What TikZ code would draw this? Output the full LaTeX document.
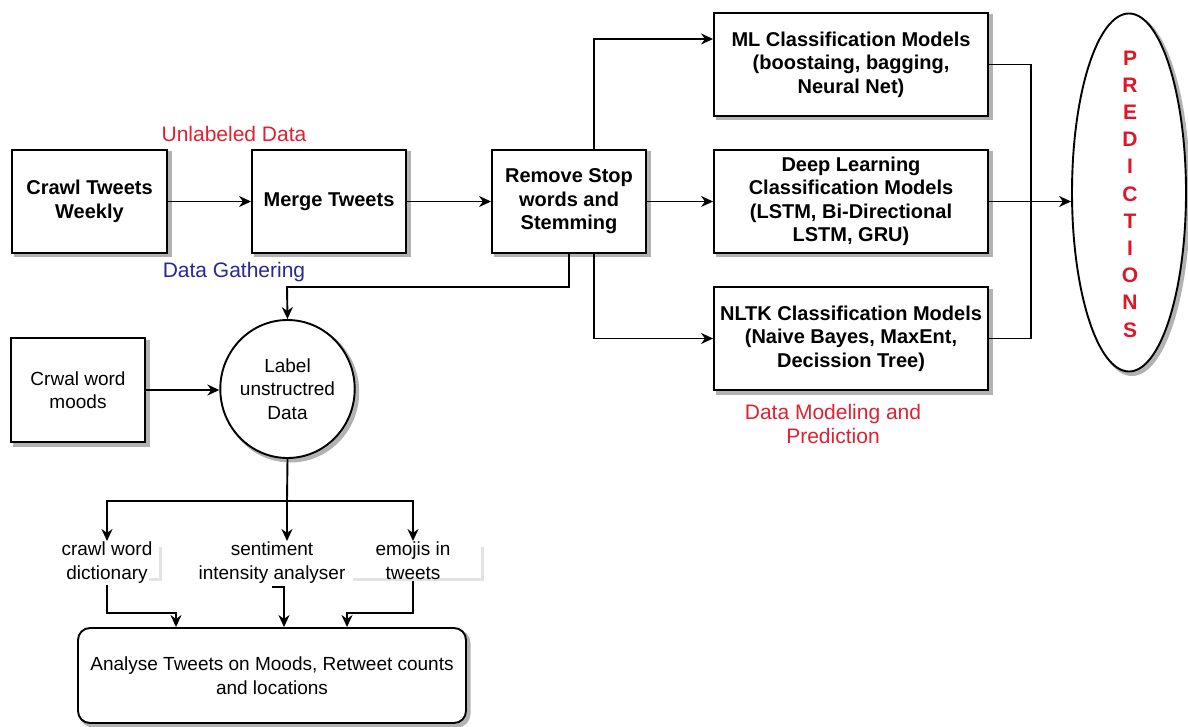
\documentclass[tikz,border=0pt]{standalone}
\usepackage{fontspec}
\setmainfont{Liberation Sans}
\usetikzlibrary{arrows.meta,shapes.geometric,calc}
\definecolor{lblred}{RGB}{226,32,48}
\definecolor{lblblue}{RGB}{40,40,150}
\definecolor{predred}{RGB}{222,22,40}
\tikzset{
  shad/.style={preaction={draw=black!30, line width=3pt, fill=black!30, transform canvas={xshift=3pt,yshift=-3pt}}},
  box/.style={draw=black, line width=1.9pt, fill=white, shad, align=center, inner sep=2pt},
  bbox/.style={box, font=\bfseries\fontsize{20}{23.5}\selectfont},
  rbox/.style={box, font=\fontsize{19}{23.5}\selectfont},
  plain/.style={align=center, font=\fontsize{19}{24}\selectfont, inner sep=1pt},
  lbl/.style={align=center, font=\fontsize{21}{24}\selectfont, inner sep=0pt},
  conn/.style={line width=1.9pt},
  arr/.style={conn, -{Stealth[length=12pt,width=11pt]}},
  faint/.style={draw=gray!22, line width=3pt},
}
\begin{document}
\begin{tikzpicture}[x=1pt,y=-1pt]
\useasboundingbox (0,0) rectangle (1188,727);

% top row
\node[bbox, minimum width=155pt, minimum height=103pt] (crawl) at (89.5,201.5) {Crawl Tweets\\Weekly};
\node[bbox, minimum width=154pt, minimum height=103pt] (merge) at (329,201.5) {Merge Tweets};
\node[bbox, minimum width=154pt, minimum height=103pt] (remove) at (569,201.5) {Remove Stop\\words and\\Stemming};

% models
\node[bbox, minimum width=274pt, minimum height=103pt] (ml) at (851,64.5) {ML Classification Models\\(boostaing, bagging,\\Neural Net)};
\node[bbox, minimum width=274pt, minimum height=103pt] (deep) at (851,201.5) {Deep Learning\\Classification Models\\(LSTM, Bi-Directional\\LSTM, GRU)};
\node[bbox, minimum width=274pt, minimum height=103pt] (nltk) at (851,338.5) {NLTK Classification Models\\(Naive Bayes, MaxEnt,\\Decission Tree)};

% predictions
\node[ellipse, draw=black, line width=1.9pt, fill=white, shad, minimum width=114pt, minimum height=358pt, inner sep=0pt] (pred) at (1129,192.5) {};
\node[align=center, text=predred, inner sep=0pt, font=\bfseries\fontsize{21}{27.2}\selectfont] (predtxt) at (1130,194)
      {P\\R\\E\\D\\I\\C\\T\\I\\O\\N\\S};

% labels
\node[lbl, text=lblred] (unl) at (234,134) {Unlabeled Data};
\node[lbl, text=lblblue] (gath) at (234,272) {Data Gathering};
\node[lbl, text=lblred] (model) at (833,424) {Data Modeling and\\Prediction};

% second part
\node[rbox, minimum width=134pt, minimum height=104pt] (moods) at (78,390) {Crwal word\\moods};
\node[rbox, ellipse, minimum width=119pt, minimum height=138pt, inner sep=0pt] (label) at (287.5,389) {Label\\unstructred\\Data};

% faint shadows of text boxes
\draw[faint] (160,547) -- (160,579) -- (149,579);
\draw[faint] (482,547) -- (482,579) -- (353,579);

\node[plain, anchor=north] (dict) at (107,541) {crawl word\\dictionary};
\node[plain, anchor=north] (sent) at (272,541) {sentiment\\intensity analyser};
\node[plain, anchor=north] (emo) at (413,541) {emojis in\\tweets};

\node[rbox, rounded corners=12pt, minimum width=388pt, minimum height=95pt] (analyse) at (272,675.5)
  {Analyse Tweets on Moods, Retweet counts\\and locations};

% coordinates
\coordinate (bus) at (1031,0);
\coordinate (j1) at (287,287);
\coordinate (b) at (287,501);
\coordinate (c1) at (176,613);
\coordinate (c2) at (284,587);
\coordinate (c3) at (347,613);

% connectors top
\draw[arr] (crawl.east) -- (merge.west);
\draw[arr] (merge.east) -- (remove.west);
\draw[arr] (remove.east) -- (deep.west);
\draw[arr] ([xshift=25pt]remove.north) |- ([yshift=25.5pt]ml.west);
\draw[arr] ([xshift=25pt]remove.south) |- (nltk.west);
\draw[arr] (remove.south) |- (j1) -- (label.north);

\draw[conn] (ml.east) -| (bus |- nltk.east) -- (nltk.east);
\draw[arr] (deep.east) -- (pred.west |- deep.east);

% second part connectors
\draw[arr] (moods.east) -- (label.west |- moods.east);
\draw[conn] (label.south) -- (b);
\draw[arr] (b) -| (dict.north);
\draw[arr] (b) -| (emo.north);
\draw[arr] (b) -- (b |- sent.north);

\draw[arr] (dict.south) |- (c1) -- (c1 |- analyse.north);
\draw[arr] (sent.south |- c2) -- (c2) -- (c2 |- analyse.north);
\draw[arr] (emo.south) |- (c3) -- (c3 |- analyse.north);
\end{tikzpicture}
\end{document}
